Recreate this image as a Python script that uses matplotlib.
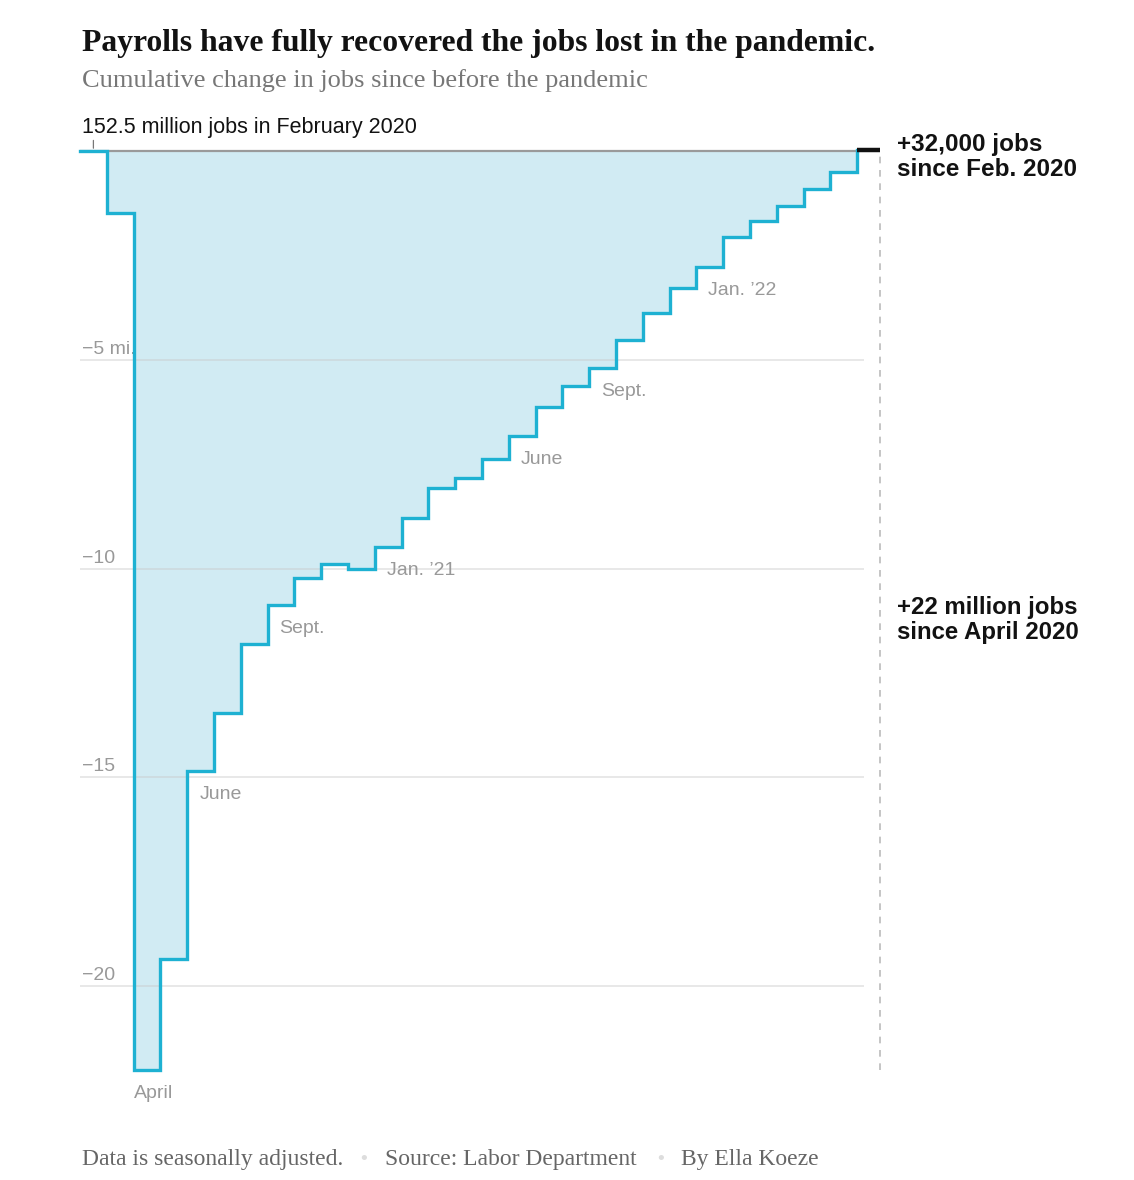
import matplotlib
matplotlib.use("Agg")
import matplotlib.pyplot as plt
import numpy as np

# cumulative change in jobs since Feb 2020, millions
months = ["Feb 2020", "Mar 2020", "Apr 2020", "May 2020", "Jun 2020", "Jul 2020",
          "Aug 2020", "Sep 2020", "Oct 2020", "Nov 2020", "Dec 2020", "Jan 2021",
          "Feb 2021", "Mar 2021", "Apr 2021", "May 2021", "Jun 2021", "Jul 2021",
          "Aug 2021", "Sep 2021", "Oct 2021", "Nov 2021", "Dec 2021", "Jan 2022",
          "Feb 2022", "Mar 2022", "Apr 2022", "May 2022", "Jun 2022", "Jul 2022"]
change = [0.0, -1.49, -22.0, -19.35, -14.85, -13.46, -11.81, -10.87, -10.23, -9.89,
          -10.01, -9.49, -8.79, -8.07, -7.83, -7.38, -6.83, -6.13, -5.63, -5.20,
          -4.53, -3.88, -3.28, -2.78, -2.06, -1.68, -1.32, -0.91, -0.50, 0.032]

month_labels = {"Apr 2020": "April", "Jun 2020": "June", "Sep 2020": "Sept.",
                "Jan 2021": "Jan. \u201921", "Jun 2021": "June", "Sep 2021": "Sept.",
                "Jan 2022": "Jan. \u201922"}
y_ticks = [-5, -10, -15, -20]
y_tick_labels = ["\u22125 mi.", "\u221210", "\u221215", "\u221220"]

W, H = 1134, 1180
fig = plt.figure(figsize=(W / 100, H / 100), dpi=100)
fig.patch.set_facecolor("white")

SANS = ["Liberation Sans", "DejaVu Sans"]
SERIF = ["Liberation Serif", "DejaVu Serif"]

def fy(px):
    return 1 - px / H

# axes: x from pixel 80 to 880, y from pixel 130 to 1090
x_end = 29.85
ax = fig.add_axes([80 / W, (H - 1090) / H, 800 / W, 960 / H])
ax.set_xlim(0, x_end)
ax.set_ylim(-22.49, 0.503)
ax.axis("off")

blue = "#1eb1d2"
fill = "#d1ebf3"
gray_txt = "#999999"

n = len(change)
x = np.arange(n)
vals = np.array(change)

# gridlines
for t, lab in zip(y_ticks, y_tick_labels):
    ax.hlines(t, 0, 29.25, color="#c8c8c8", alpha=0.45, lw=1.3, zorder=3.5)
    ax.annotate(lab, (0, t), xytext=(2, 2), textcoords="offset pixels",
                ha="left", va="bottom", fontsize=14, color=gray_txt,
                family=SANS, zorder=4)

# fill between curve and zero
ax.fill_between(np.append(x[:-1], n - 1), np.append(vals[:-1], vals[-2]), 0,
                step="post", color=fill, lw=0, zorder=3)

# baseline at zero
ax.hlines(0, 0, n - 1, color="#9a9a9a", lw=1.6, zorder=4)

# blue steps up to the last month
sx = np.append(x[:-1], n - 1)
sy = np.append(vals[:-1], vals[-1])
ax.step(sx, sy, where="post", color=blue, lw=2.4, zorder=5,
        solid_joinstyle="miter", clip_on=False)

# last month in black
ax.hlines(vals[-1], n - 1, x_end, color="#111111", lw=3.2, zorder=6, clip_on=False)

# dashed reference line
ax.vlines(x_end, min(change), 0, color="#bbbbbb", lw=1.2,
          linestyles=(0, (4, 4)), zorder=2, clip_on=False)

# small tick above the February value
ax.annotate("", (0.5, 0), xytext=(0.5, 0.32),
            arrowprops=dict(arrowstyle="-", color="#777777", lw=0.9))

# month labels
for m, lab in month_labels.items():
    i = months.index(m)
    dx = 0 if lab == "April" else 12
    ax.annotate(lab, (i, change[i]), xytext=(dx, -15), textcoords="offset pixels",
                ha="left", va="top", fontsize=14, color=gray_txt, family=SANS,
                zorder=7)

# texts
fig.text(82 / W, fy(43), "Payrolls have fully recovered the jobs lost in the pandemic.",
         fontsize=22.8, fontweight="bold", family=SERIF, color="#121212", va="center")
fig.text(82 / W, fy(81), "Cumulative change in jobs since before the pandemic",
         fontsize=19, family=SERIF, color="#777777", va="center")
fig.text(82 / W, fy(127), "152.5 million jobs in February 2020",
         fontsize=15.5, family=SANS, color="#121212", va="center")

fig.text(897 / W, fy(157), "+32,000 jobs\nsince Feb. 2020", fontsize=17.5,
         fontweight="bold", family=SANS, color="#121212", va="center",
         linespacing=1.12)
fig.text(897 / W, fy(620), "+22 million jobs\nsince April 2020", fontsize=17.3,
         fontweight="bold", family=SANS, color="#121212", va="center",
         linespacing=1.12)

fy_foot = fy(1159)
fig.text(82 / W, fy_foot, "Data is seasonally adjusted.", fontsize=17, family=SERIF,
         color="#666666", va="center")
fig.text(364 / W, fy_foot, "\u2022", fontsize=14, family=SANS, color="#dddddd",
         va="center", ha="center")
fig.text(385 / W, fy_foot, "Source: Labor Department", fontsize=17, family=SERIF,
         color="#666666", va="center")
fig.text(661 / W, fy_foot, "\u2022", fontsize=14, family=SANS, color="#dddddd",
         va="center", ha="center")
fig.text(681 / W, fy_foot, "By Ella Koeze", fontsize=17, family=SERIF,
         color="#666666", va="center")

fig.savefig("out.png", dpi=100, facecolor="white")
